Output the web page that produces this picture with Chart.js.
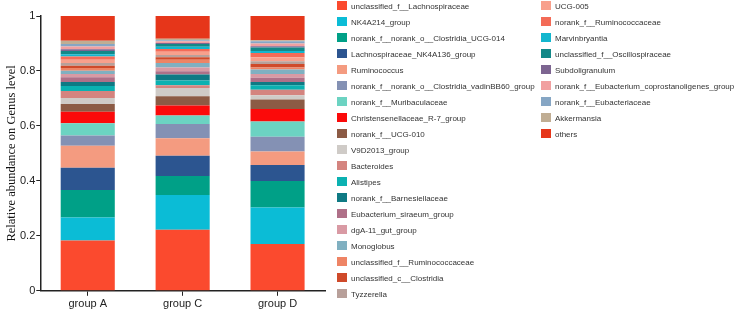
<!DOCTYPE html>
<html>
<head>
<meta charset="utf-8">
<script src="https://cdn.jsdelivr.net/npm/chart.js@4/dist/chart.umd.min.js"></script>
<style>
    body { margin: 0; background: #fff; }
    #wrap { position: relative; width: 738px; height: 313px; }
    #chart { position: absolute; left: 0; top: 0; }
    .legend-item {
        position: absolute;
        height: 12px;
        line-height: 12px;
        font: 8px "Liberation Sans", Arial, sans-serif;
        color: #333;
        white-space: nowrap;
    }
    .legend-item span.box {
        display: inline-block;
        width: 10px;
        height: 9px;
        vertical-align: middle;
        margin-right: 4px;
        margin-top: -2px;
    }
</style>
</head>
<body>
<div id="wrap">
    <canvas id="chart" width="738" height="313"></canvas>
    <div id="legend"></div>
</div>
<script>
const groups = ['group A', 'group C', 'group D'];

const genera = [
    'unclassified_f__Lachnospiraceae',
    'NK4A214_group',
    'norank_f__norank_o__Clostridia_UCG-014',
    'Lachnospiraceae_NK4A136_group',
    'Ruminococcus',
    'norank_f__norank_o__Clostridia_vadinBB60_group',
    'norank_f__Muribaculaceae',
    'Christensenellaceae_R-7_group',
    'norank_f__UCG-010',
    'V9D2013_group',
    'Bacteroides',
    'Alistipes',
    'norank_f__Barnesiellaceae',
    'Eubacterium_siraeum_group',
    'dgA-11_gut_group',
    'Monoglobus',
    'unclassified_f__Ruminococcaceae',
    'unclassified_c__Clostridia',
    'Tyzzerella',
    'UCG-005',
    'norank_f__Ruminococcaceae',
    'Marvinbryantia',
    'unclassified_f__Oscillospiraceae',
    'Subdoligranulum',
    'norank_f__Eubacterium_coprostanoligenes_group',
    'norank_f__Eubacteriaceae',
    'Akkermansia',
    'others'
];

const colors = [
    '#fb4a2e', '#0bbcd6', '#00a087', '#2c5590', '#f49b80', '#8491b4', '#6cd3c2',
    '#fb0a0a', '#8c5b45', '#cfcbc7', '#d4847f', '#0bb1b1', '#0f7a84', '#af7088',
    '#d99aa4', '#80b0c1', '#ee8465', '#cf4a2a', '#b8a09a', '#f8a08c', '#f36b57',
    '#13b6ce', '#138888', '#7d6591', '#f1a0a0', '#86a6c4', '#c0ad93', '#e6361a'
];

// relative abundance, same order as genera
const groupA = [
    0.183, 0.084, 0.100, 0.081, 0.080, 0.037, 0.045, 0.042, 0.028, 0.022,
    0.025, 0.018, 0.015, 0.017, 0.012, 0.012, 0.010, 0.008, 0.010, 0.012,
    0.012, 0.008, 0.012, 0.006, 0.010, 0.009, 0.012, 0.090
];
const groupC = [
    0.222, 0.127, 0.069, 0.073, 0.064, 0.052, 0.031, 0.036, 0.034, 0.030,
    0.010, 0.017, 0.022, 0.012, 0.014, 0.016, 0.012, 0.009, 0.008, 0.012,
    0.010, 0.008, 0.010, 0.004, 0.006, 0.004, 0.005, 0.083
];
const groupD = [
    0.170, 0.133, 0.097, 0.058, 0.049, 0.054, 0.055, 0.046, 0.034, 0.016,
    0.020, 0.016, 0.012, 0.015, 0.014, 0.016, 0.008, 0.012, 0.010, 0.015,
    0.015, 0.008, 0.012, 0.005, 0.010, 0.008, 0.004, 0.088
];

const yTicks = [0, 0.2, 0.4, 0.6, 0.8, 1];

const datasets = genera.map((name, i) => ({
    label: name,
    data: [groupA[i], groupC[i], groupD[i]],
    backgroundColor: colors[i],
    borderWidth: 0,
    barPercentage: 0.57,
    categoryPercentage: 1.0
}));

new Chart(document.getElementById('chart'), {
    type: 'bar',
    data: { labels: groups, datasets },
    options: {
        responsive: false,
        animation: false,
        layout: { padding: { left: 4, right: 413, top: 16, bottom: 0 } },
        plugins: {
            legend: { display: false },
            tooltip: { enabled: false }
        },
        scales: {
            x: {
                stacked: true,
                grid: { display: true, drawOnChartArea: false, offset: false, tickLength: 5, color: '#222', lineWidth: 1 },
                border: { display: true, color: '#222', width: 1.5 },
                ticks: { color: '#222', font: { family: 'Liberation Sans, Arial', size: 11 }, padding: 2 }
            },
            y: {
                stacked: true,
                min: 0,
                max: 1,
                afterBuildTicks: axis => { axis.ticks = yTicks.map(v => ({ value: v })); },
                grid: { display: true, drawOnChartArea: false, tickLength: 4, color: '#222', lineWidth: 1 },
                border: { display: true, color: '#222', width: 1.5 },
                ticks: {
                    color: '#222',
                    font: { family: 'Liberation Sans, Arial', size: 11 },
                    padding: 1,
                    callback: v => String(+v.toFixed(1))
                },
                title: {
                    display: true,
                    text: 'Relative abundance on Genus level',
                    color: '#111',
                    font: { family: 'Liberation Serif, Times New Roman', size: 12.5 },
                    padding: { top: 0, bottom: 0 }
                }
            }
        }
    }
});

// two-column legend, drawn as HTML from the same arrays
const legend = document.getElementById('legend');
const perColumn = 19;
genera.forEach((name, i) => {
    const col = Math.floor(i / perColumn);
    const row = i % perColumn;
    const item = document.createElement('div');
    item.className = 'legend-item';
    item.style.left = (col === 0 ? 337 : 541) + 'px';
    item.style.top = (2 + row * 16) + 'px';
    item.innerHTML = `<span class="box" style="background:${colors[i]}"></span>${name}`;
    legend.appendChild(item);
});
</script>
</body>
</html>
